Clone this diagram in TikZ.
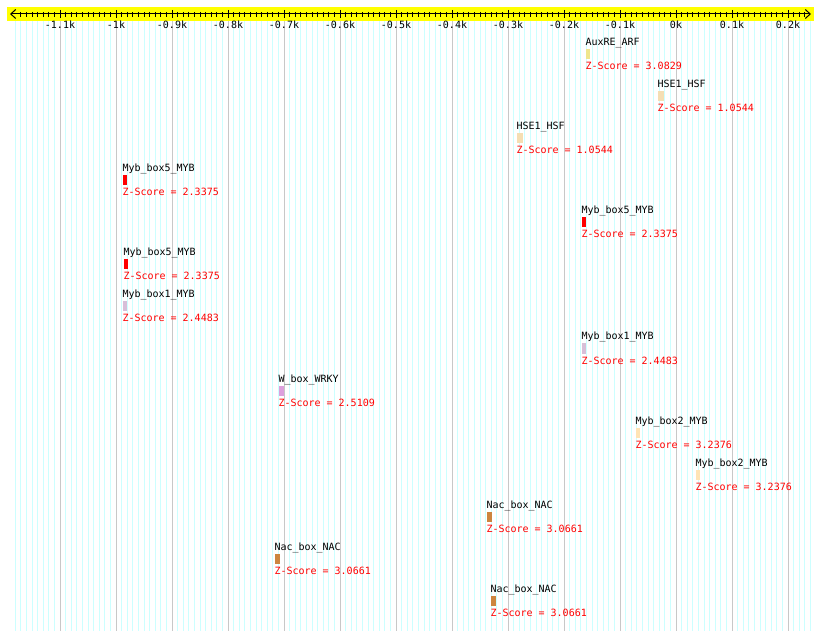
\documentclass[tikz,border=0pt]{standalone}
\usepackage{fontspec}
\usetikzlibrary{arrows.meta, positioning}
\newfontfamily\plotfont{DejaVu Sans Mono}
\definecolor{axisyellow}{HTML}{FFFF00}
\definecolor{gridcyan}{HTML}{CCFFFF}
\definecolor{gridgray}{HTML}{C8C8C8}
\definecolor{zred}{HTML}{FF0000}
\definecolor{arfkhaki}{HTML}{F0E68C}
\definecolor{hsfwheat}{HTML}{F5DEB3}
\definecolor{mybred}{HTML}{FF0000}
\definecolor{mybthistle}{HTML}{D8BFD8}
\definecolor{wrkyplum}{HTML}{DDA0DD}
\definecolor{mybmoccasin}{HTML}{FFE4B5}
\definecolor{nacperu}{HTML}{CD853F}
\tikzset{
  axistip/.tip={Straight Barb[length=5pt, width=9pt]},
  motifname/.style={
    anchor=base west, inner sep=0pt,
    font=\plotfont\fontsize{10}{12}\selectfont
  },
  zscore/.style={motifname, text=zred},
  ticklabel/.style={
    anchor=base, inner sep=0pt,
    font=\plotfont\fontsize{10}{12}\selectfont
  },
  motifbar/.style={
    rectangle, fill=#1, draw=none, inner sep=0pt,
    minimum height=10pt, anchor=north west
  }
}

\begin{document}
\begin{tikzpicture}[x=1pt, y=-1pt, line width=1pt]
  \useasboundingbox (0,0) rectangle (820,631);
  % Rejilla
  \foreach \v in {-1180,-1170,...,240}
    \draw[gridcyan] ({676+0.56*\v},21) -- ({676+0.56*\v},631);
  \foreach \v in {-1100,-1000,...,200}
    \draw[gridgray] ({676+0.56*\v},21) -- ({676+0.56*\v},631);
  % Eje
  \fill[axisyellow] (7,7) rectangle (814,21);
  \draw[axistip-axistip] (10,14) -- (811,14);
  \foreach \v in {-1170,-1160,...,230}
    \draw ({676+0.56*\v},12) -- ({676+0.56*\v},17);
  \foreach \v/\lab in {-1100/-1.1k, -1000/-1k, -900/-0.9k, -800/-0.8k,
      -700/-0.7k, -600/-0.6k, -500/-0.5k, -400/-0.4k, -300/-0.3k,
      -200/-0.2k, -100/-0.1k, 0/0k, 100/0.1k, 200/0.2k} {
    \draw ({676+0.56*\v},10) -- ({676+0.56*\v},18);
    \node[ticklabel] (tick\v) at ({676+0.56*\v},29) {\lab};
  }
  % Motivos
  \foreach \x/\r/\w/\c/\lab/\z in {
      585/0/4/arfkhaki/AuxRE\_ARF/3.0829,
      657/1/6/hsfwheat/HSE1\_HSF/1.0544,
      516/2/6/hsfwheat/HSE1\_HSF/1.0544,
      122/3/4/mybred/Myb\_box5\_MYB/2.3375,
      581/4/4/mybred/Myb\_box5\_MYB/2.3375,
      123/5/4/mybred/Myb\_box5\_MYB/2.3375,
      122/6/4/mybthistle/Myb\_box1\_MYB/2.4483,
      581/7/4/mybthistle/Myb\_box1\_MYB/2.4483,
      278/8/5/wrkyplum/W\_box\_WRKY/2.5109,
      635/9/4/mybmoccasin/Myb\_box2\_MYB/3.2376,
      695/10/4/mybmoccasin/Myb\_box2\_MYB/3.2376,
      486/11/5/nacperu/Nac\_box\_NAC/3.0661,
      274/12/5/nacperu/Nac\_box\_NAC/3.0661,
      490/13/5/nacperu/Nac\_box\_NAC/3.0661} {
    \node[motifbar=\c, minimum width=\w pt] (bar\r) at (\x,{49+42*\r}) {};
    \node[motifname] (name\r) at ([yshift=3pt]bar\r.north west) {\lab};
    \node[zscore] (z\r) at ([yshift=-10pt]bar\r.south west)
      {Z-Score = \z};
  }
\end{tikzpicture}
\end{document}
